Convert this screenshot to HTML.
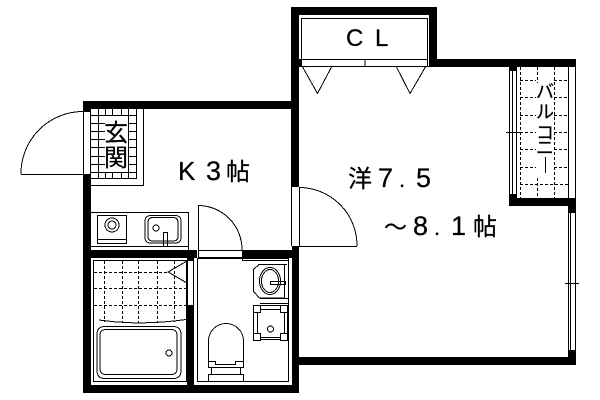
<!DOCTYPE html>
<html><head><meta charset="utf-8"><style>
html,body{margin:0;padding:0;background:#fff;width:600px;height:400px;overflow:hidden}
svg{position:absolute;left:0;top:0}
text{font-family:"Liberation Sans","Noto Sans CJK JP",sans-serif;fill:#000;stroke:#000;stroke-width:.25px}
.j{font-family:"Noto Sans CJK JP","Liberation Sans",sans-serif}
</style></head><body>
<svg width="600" height="400" viewBox="0 0 600 400">
<g fill="#000" shape-rendering="crispEdges">
<rect x="291" y="7" width="146" height="8"/>
<rect x="291" y="7" width="8" height="180"/>
<rect x="429" y="7" width="8" height="60"/>
<rect x="429" y="59" width="147" height="8"/>
<rect x="291" y="59" width="10" height="8"/>
<rect x="83" y="101" width="216" height="8"/>
<rect x="83" y="101" width="8" height="11"/>
<rect x="83" y="174" width="8" height="219"/>
<rect x="292" y="246" width="7" height="147"/>
<rect x="83" y="250" width="114" height="8"/>
<rect x="242" y="250" width="57" height="8"/>
<rect x="83" y="385" width="216" height="8"/>
<rect x="299" y="357" width="277" height="8"/>
<rect x="187" y="250" width="7" height="11"/>
<rect x="187" y="305" width="7" height="85"/>
<rect x="509" y="198" width="67" height="8"/>
<rect x="568" y="198" width="8" height="15"/>
<rect x="568" y="350" width="8" height="15"/>
<rect x="509" y="67" width="8" height="4"/>
<rect x="509" y="194" width="8" height="4"/>
</g>
<g fill="none" stroke="#000" stroke-width="1" shape-rendering="crispEdges">
<!-- closet -->
<rect x="301.5" y="18.5" width="126" height="41"/>
<path d="M301.5 59v7M427.5 59v7M365 59v7M301 66.500h128"/>
<!-- windows / door edges -->
<path d="M509.500 71v123M512.500 71v123M516.500 71v123M506 132.500h14"/>
<path d="M568.500 67v131M575.500 67v131"/>
<path d="M568.500 213v137M570.500 213v137M575.500 213v137M565 283.500h14"/>
<path d="M291.500 187v59M299.500 187v59"/>
<path d="M83.500 112v62M90.500 112v62"/>
<path d="M187.500 261v44M193.500 261v44"/>
<path d="M198 250.500h44M198 257.500h44"/>
<path d="M21 174.500h62M299 246.500h58"/>
<path d="M198.500 205v53"/>
<!-- genkan -->
<path d="M91 185.500h52M143.500 109v77M136.500 109v70M91 178.500h46"/>
<!-- kitchen -->
<path d="M91 212.500h97M188.500 212v38M91 246.500h97"/>
<rect x="97.500" y="215.500" width="29" height="28"/>
<path d="M97 239.500h30"/>
<rect x="163.500" y="232.500" width="4" height="14"/>
<!-- bath -->
<rect x="93.500" y="260.500" width="93" height="121"/>
<!-- wc -->
<rect x="197.500" y="258.500" width="91" height="123"/>
<path d="M194 250v8"/>
<path d="M242.500 258v2.500h18M260 260.500h28M260 264.500h27M284.500 264v34M260 298.500h28M260 303.500h28"/>
<rect x="253.500" y="305.500" width="34" height="34"/>
<rect x="253.500" y="305.500" width="7" height="7" fill="#fff"/>
<rect x="280.500" y="305.500" width="7" height="7" fill="#fff"/>
<rect x="253.500" y="333.500" width="7" height="7" fill="#fff"/>
<rect x="280.500" y="333.500" width="7" height="7" fill="#fff"/>
<path d="M257.500 312v21M284.500 312v21M260 309.500h21M260 337.500h21"/>
<path d="M270.500 281.500h15v3h-15z"/>
<path d="M208.500 361.500h7v3h20v-3h8M208.500 361v7M243.500 361v7M208.500 367.500h35M211.500 368v6M240.500 368v6"/>
<path d="M208.500 374.500h35v7h-35z"/>
</g>
<!-- tile dashes -->
<g fill="none" stroke="#000" stroke-width="1" stroke-dasharray="3 2" shape-rendering="crispEdges">
<path d="M104.500 261v61M122.500 261v62M138.500 261v62M157.500 261v62M174.500 261v61"/>
<path d="M94 272.500h74M94 288.500h92M94 305.500h92"/>
<path d="M520.500 67v131M554.500 67v131M537.500 67v16M537.500 178v20"/>
<path d="M520 80.500h16M520 97.500h16M520 115.500h16M520 132.500h16M520 149.500h16M520 167.500h16M554 80.500h14M554 97.500h14M554 115.500h14M554 132.500h14M554 149.500h14M554 167.500h14M520 184.500h48"/>
</g>
<g fill="none" stroke="#000" stroke-width="1" shape-rendering="crispEdges">
<path d="M98.500 109v6M105.500 109v6M112.500 109v6M121.500 109v6M128.500 109v6M98.500 172v6M105.500 172v6M112.500 172v6M121.500 172v6M128.500 172v6"/>
<path d="M91 115.500h45M91 123.500h14M91 131.500h14M91 139.500h14M91 147.500h14M91 156.500h14M91 164.500h14M91 172.500h45M128 123.500h8M128 131.500h8M128 139.500h8M128 147.500h8M128 156.500h8M128 164.500h8M98.500 115v57M128.500 115v57"/>
</g>
<!-- curves -->
<g fill="none" stroke="#000" stroke-width="1" shape-rendering="crispEdges">
<path d="M83 111.500A62 62 0 0 0 21 174"/>
<path d="M299 187.500A58 58 0 0 1 357 246"/>
<path d="M198 205.500A44 44 0 0 1 242 250"/>
<path d="M302 66L317.500 93.500L332 66"/>
<path d="M396 66L410 93.500L426 66"/>
<path d="M187 261L168 272L187 283"/>
<path d="M99 320Q140 326 186 319.500"/>
<circle cx="112" cy="225" r="7"/><circle cx="112" cy="225" r="4"/>
<path d="M151 215.500h24q6 0 6 6v16q0 5.500-6 5.500h-24q-6 0-6-5.500v-16q0-6 6-6z"/>
<path d="M153 217.500h20q5 0 5 5v14q0 4.500-5 4.500h-20q-5 0-5-4.500v-14q0-5 5-5z"/>
<circle cx="156" cy="228" r="3"/>
<path d="M105 326.500h68q8 0 8 8v36q0 8-8 8h-68q-8 0-8-8v-36q0-8 8-8z"/>
<path d="M106 329.500h65q6 0 6 6v33q0 6-6 6h-65q-6 0-6-6v-33q0-6 6-6z"/>
<circle cx="169" cy="353" r="3"/>
<path d="M259 264.500h25M259 264.500l-5.500 5v22l6 6.500h25"/>
<ellipse cx="270" cy="281" rx="10.500" ry="13.500"/><ellipse cx="270" cy="281" rx="8.500" ry="11.500"/>
<circle cx="270.500" cy="329" r="3"/>
<path d="M208.500 361v-20a17.500 17.500 0 0 1 35 0v20"/>
</g>
<text x="346" y="46" font-size="24">C</text>
<text x="375" y="46" font-size="24">L</text>
<text class="j" x="104" y="141" font-size="24">玄</text>
<text class="j" x="104" y="166" font-size="24">関</text>
<text x="178" y="180" font-size="26">K</text>
<text x="206" y="180" font-size="27">3</text>
<text class="j" x="226" y="180" font-size="24">帖</text>
<text class="j" x="348" y="187" font-size="24">洋</text>
<text x="378" y="187" font-size="27">7</text>
<text x="399" y="187" font-size="22">.</text>
<text x="416" y="187" font-size="27">5</text>
<text class="j" x="384" y="235" font-size="23">～</text>
<text x="413" y="235" font-size="27">8</text>
<text x="434" y="235" font-size="22">.</text>
<text x="451" y="235" font-size="27">1</text>
<text class="j" x="473" y="235" font-size="24">帖</text>
<text class="j" x="536" y="98" font-size="18">バ</text>
<text class="j" x="536" y="118" font-size="18">ル</text>
<text class="j" x="536" y="139" font-size="18">コ</text>
<text class="j" x="536" y="154" font-size="18">ニ</text>
<path d="M545.500 157v16" stroke="#000" stroke-width="1" fill="none" shape-rendering="crispEdges"/>
</svg>
</body></html>
